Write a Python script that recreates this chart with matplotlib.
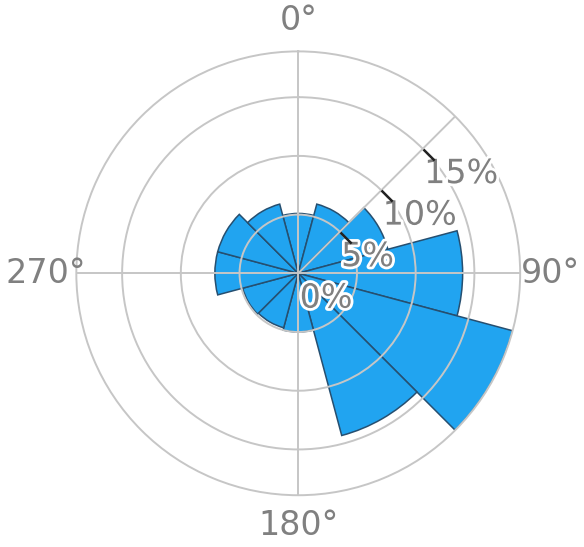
import numpy as np
import matplotlib
matplotlib.use("Agg")
import matplotlib.pyplot as plt
import matplotlib.patheffects as pe
from matplotlib.path import Path

# direction of the sector centre (deg, clockwise from north) and frequency (%)
directions = [0, 30, 60, 90, 120, 150, 180, 210, 240, 270, 300, 330]
freq = [5.1, 6.1, 7.9, 14.0, 18.9, 14.3, 5.0, 4.8, 4.9, 7.1, 7.1, 6.1]
sector_width = 30

angle_ticks = [0, 90, 180, 270]
angle_labels = ["0°", "90°", "180°", "270°"]
r_ticks = [0, 5, 10, 15]
r_labels = ["0%", "5%", "10%", "15%"]
r_axis_angle = 45

grid_col = "#c6c6c6"
text_col = "#808080"

fig = plt.figure(figsize=(5.84, 5.47), dpi=100)
ax = fig.add_axes([0.1307, 0.0945, 0.760, 0.8117], projection="polar")
ax.set_theta_zero_location("N")
ax.set_theta_direction(-1)

ax.bar(np.deg2rad(directions), freq, width=np.deg2rad(sector_width),
       color="#21a4f0", edgecolor="#264f70", linewidth=1.1, zorder=1)

ax.set_ylim(0, max(freq))
ax.set_axisbelow(False)

ax.set_xticks(np.deg2rad(angle_ticks))
ax.set_xticklabels(angle_labels, fontsize=24, color=text_col)
ax.tick_params(axis="x", pad=15, length=0)

ax.set_yticks(r_ticks[1:])
ax.set_yticklabels([])
ax.tick_params(axis="y", length=0)
ax.grid(True, color=grid_col, linewidth=1.4)
ax.spines["polar"].set_color(grid_col)
ax.spines["polar"].set_linewidth(1.4)

# radial axis line at 45 deg
th = np.deg2rad(r_axis_angle)
ax.plot([th, th], [0, max(freq)], color=grid_col, linewidth=1.4, zorder=3)

for r, lab in zip(r_ticks, r_labels):
    ax.annotate(lab, xy=(th, r), xytext=(1, -6), textcoords="offset points",
                ha="left", va="top", fontsize=24, color=text_col, zorder=5,
                path_effects=[pe.withStroke(linewidth=4, foreground="white")])

# small dark ticks on the radial axis
tick_marker = Path([(0, 0), (0.7, -0.7)], [Path.MOVETO, Path.LINETO])
ax.plot([th] * len(r_ticks[1:]), r_ticks[1:], linestyle="none",
        marker=tick_marker, markersize=16, markeredgecolor="#222222",
        markeredgewidth=1.8, zorder=6)

fig.savefig("out.png", dpi=100)
